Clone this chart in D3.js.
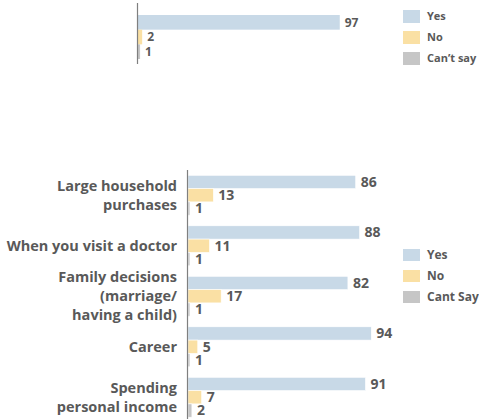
<!DOCTYPE html>
<html>
<head>
<meta charset="utf-8">
<script src="https://cdn.jsdelivr.net/npm/d3@7"></script>
<style>
  body { margin: 0; background: #fff; }
  text { font-family: "Open Sans", "Noto Sans", sans-serif; font-weight: bold; fill: #595959; }
</style>
</head>
<body>
<div id="chart"></div>
<script>
// top panel (overall)
var topSeries = ['Yes', 'No', 'Can\u2019t say'];
var topValues = [97, 2, 1];

// bottom panel
var categories = [
    ['Large household', 'purchases'],
    ['When you visit a doctor'],
    ['Family decisions', '(marriage/', 'having a child)'],
    ['Career'],
    ['Spending', 'personal income']
];
var bottomSeries = ['Yes', 'No', 'Cant Say'];
var yesValues = [86, 88, 82, 94, 91];
var noValues = [13, 11, 17, 5, 7];
var cantValues = [1, 1, 1, 1, 2];

var colors = ['#c8d9e7', '#fae0a4', '#c6c6c6'];
var width = 479, height = 419;

var svg = d3.select('#chart').append('svg')
    .attr('width', width)
    .attr('height', height);

// ---- top chart ----
var xTop = d3.scaleLinear().domain([0, 100]).range([138, 346]);
var yTop = d3.scaleBand().domain(topSeries).range([15, 59]);

svg.append('g').selectAll('rect')
    .data(topValues)
    .enter().append('rect')
    .attr('x', xTop(0))
    .attr('y', (d, i) => yTop(topSeries[i]))
    .attr('width', d => xTop(d) - xTop(0))
    .attr('height', yTop.bandwidth())
    .attr('fill', (d, i) => colors[i]);

svg.append('g').selectAll('text')
    .data(topValues)
    .enter().append('text')
    .attr('x', d => xTop(d) + 5)
    .attr('y', (d, i) => yTop(topSeries[i]) + yTop.bandwidth() / 2)
    .attr('dy', '0.35em')
    .style('font-size', '12px')
    .text(d => d);

svg.append('line')
    .attr('x1', 137.5).attr('x2', 137.5)
    .attr('y1', 3).attr('y2', 64)
    .attr('stroke', '#7f7f7f').attr('stroke-width', 1.2);

var legTop = svg.append('g').selectAll('g')
    .data(topSeries)
    .enter().append('g')
    .attr('transform', (d, i) => 'translate(403,' + (10 + i * 21) + ')');
legTop.append('rect').attr('width', 17).attr('height', 13)
    .attr('fill', (d, i) => colors[i]);
legTop.append('text').attr('x', 24).attr('y', 6.5).attr('dy', '0.35em')
    .style('font-size', '11px').text(d => d);

// ---- bottom chart ----
var series = [yesValues, noValues, cantValues];
var y0 = d3.scaleBand().domain(d3.range(categories.length))
    .range([170, 422.5]).paddingInner(0.21).paddingOuter(0.105);
var y1 = d3.scaleBand().domain(bottomSeries).range([0, y0.bandwidth()]);
var x = d3.scaleLinear().domain([0, 100]).range([188, 383]);

var groups = svg.append('g').selectAll('g')
    .data(categories)
    .enter().append('g')
    .attr('transform', (d, i) => 'translate(0,' + y0(i) + ')');

groups.each(function(cat, ci) {
    var g = d3.select(this);
    bottomSeries.forEach(function(s, si) {
        var v = series[si][ci];
        g.append('rect')
            .attr('x', x(0))
            .attr('y', y1(s))
            .attr('width', x(v) - x(0))
            .attr('height', y1.bandwidth())
            .attr('fill', colors[si])
            .attr('stroke', '#fff').attr('stroke-width', 0.6);
        g.append('text')
            .attr('x', x(v) + 5)
            .attr('y', y1(s) + y1.bandwidth() / 2)
            .attr('dy', '0.35em')
            .style('font-size', '14px')
            .text(v);
    });
    var lineH = 19;
    var t = g.append('text')
        .attr('text-anchor', 'end')
        .style('font-size', '14.5px');
    cat.forEach(function(line, li) {
        t.append('tspan')
            .attr('x', 177)
            .attr('y', y0.bandwidth() / 2 + (li - (cat.length - 1) / 2) * lineH)
            .attr('dy', '0.35em')
            .text(line);
    });
});

svg.append('line')
    .attr('x1', 187.5).attr('x2', 187.5)
    .attr('y1', 170).attr('y2', 419)
    .attr('stroke', '#7f7f7f').attr('stroke-width', 1.2);

var legBot = svg.append('g').selectAll('g')
    .data(bottomSeries)
    .enter().append('g')
    .attr('transform', (d, i) => 'translate(403,' + (249 + i * 21) + ')');
legBot.append('rect').attr('width', 17).attr('height', 12)
    .attr('fill', (d, i) => colors[i]);
legBot.append('text').attr('x', 24).attr('y', 6).attr('dy', '0.35em')
    .style('font-size', '12px').text(d => d);
</script>
</body>
</html>
